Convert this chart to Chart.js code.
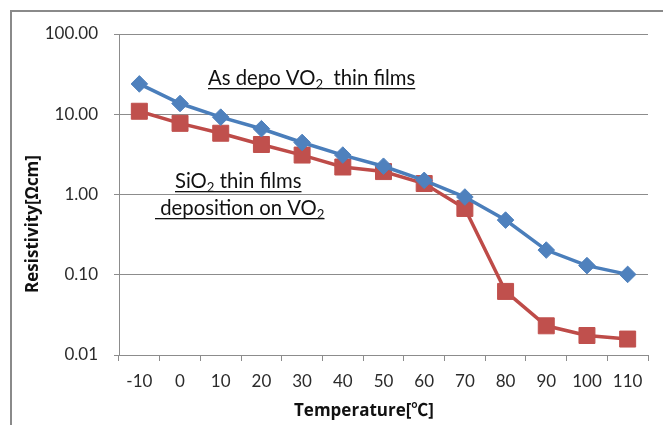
<!DOCTYPE html>
<html>
<head>
<meta charset="utf-8">
<script src="https://cdn.jsdelivr.net/npm/chart.js@4"></script>
<style>
  html, body { margin: 0; padding: 0; background: #fff; }
  #wrap { width: 663px; height: 425px; }
</style>
</head>
<body>
<div id="wrap"><canvas id="resistivityChart" width="663" height="425"></canvas></div>
<script>
  // Values
  const temperatures = ['-10', '0', '10', '20', '30', '40', '50', '60', '70', '80', '90', '100', '110'];
  const asDepoVO2 = [23.9, 13.6, 9.2, 6.6, 4.45, 3.1, 2.25, 1.5, 0.93, 0.48, 0.203, 0.130, 0.101];
  const sio2OnVO2 = [10.9, 7.7, 5.8, 4.2, 3.1, 2.2, 1.93, 1.37, 0.67, 0.062, 0.0231, 0.0175, 0.0158];
  const yTicks = [0.01, 0.1, 1, 10, 100];

  const FONT = 'Lato, "Open Sans", sans-serif';
  const TITLE_FONT = '"Open Sans", "Noto Sans CJK JP", sans-serif';
  const GRID = '#8c8c8c';

  // draws a text run list like [['SiO', false], ['2', true], ...] with optional underline
  function drawRuns(ctx, runs, x, y, size, underline) {
    let cx = x;
    ctx.textBaseline = 'alphabetic';
    ctx.textAlign = 'left';
    runs.forEach(([txt, sub]) => {
      ctx.font = (sub ? size * 0.65 : size) + 'px ' + FONT;
      ctx.fillText(txt, cx, sub ? y + size * 0.2 : y);
      cx += ctx.measureText(txt).width;
    });
    if (underline) {
      ctx.fillRect(x, y + 3, cx - x, 1.3);
    }
  }

  const extras = {
    id: 'extras',
    afterDraw(chart) {
      const ctx = chart.ctx;
      ctx.save();
      // outer frame (only top and left are visible)
      ctx.strokeStyle = '#8a8a8a';
      ctx.lineWidth = 2;
      ctx.beginPath();
      ctx.moveTo(11, 425);
      ctx.lineTo(11, 11);
      ctx.lineTo(663, 11);
      ctx.stroke();

      ctx.fillStyle = '#111';
      drawRuns(ctx, [['As depo VO', false], ['2', true], ['  thin films', false]], 208, 85, 20.3, true);
      drawRuns(ctx, [['SiO', false], ['2', true], [' thin films', false]], 175, 188, 20.3, true);
      drawRuns(ctx, [[' deposition on VO', false], ['2', true]], 155, 215, 20.3, true);

      // axis titles
      ctx.font = 'bold 17px ' + TITLE_FONT;
      ctx.textAlign = 'center';
      ctx.textBaseline = 'middle';
      ctx.fillText('Temperature[℃]', 364, 411);
      ctx.translate(33, 224);
      ctx.rotate(-Math.PI / 2);
      ctx.fillText('Resistivity[Ωcm]', 0, 0);
      ctx.restore();
    }
  };

  const ctx = document.getElementById('resistivityChart').getContext('2d');
  new Chart(ctx, {
    type: 'line',
    data: {
      labels: temperatures,
      datasets: [{
        label: 'As depo VO2 thin films',
        data: asDepoVO2,
        borderColor: '#4A7EBB',
        backgroundColor: '#4F81BD',
        pointBorderColor: '#4F81BD',
        borderWidth: 3.5,
        pointStyle: 'rectRot',
        pointRadius: 8.3,
        pointBorderWidth: 1,
        tension: 0
      }, {
        label: 'SiO2 thin films deposition on VO2',
        data: sio2OnVO2,
        borderColor: '#BE4B48',
        backgroundColor: '#C0504D',
        pointBorderColor: '#C0504D',
        borderWidth: 3.5,
        pointStyle: 'rect',
        pointRadius: 11.3,
        pointBorderWidth: 1,
        tension: 0
      }]
    },
    options: {
      responsive: false,
      animation: false,
      layout: { padding: { left: 0, top: 34, right: 15, bottom: 0 } },
      plugins: {
        legend: { display: false },
        tooltip: { enabled: false }
      },
      scales: {
        x: {
          offset: true,
          afterFit: s => { s.height = 70; },
          grid: { drawOnChartArea: false, drawTicks: true, tickLength: 6, color: GRID, offset: true },
          border: { display: false },
          ticks: { color: '#2b2b2b', font: { family: FONT, size: 17 }, padding: 10, maxRotation: 0, autoSkip: false }
        },
        y: {
          type: 'logarithmic',
          min: 0.01,
          max: 100,
          afterFit: s => { s.width = 119; },
          afterBuildTicks: s => { s.ticks = yTicks.map(v => ({ value: v })); },
          grid: { color: GRID, tickLength: 5 },
          border: { display: true, color: GRID },
          ticks: {
            color: '#2b2b2b',
            font: { family: FONT, size: 17 },
            padding: 16,
            callback: v => Number(v).toFixed(2)
          }
        }
      }
    },
    plugins: [extras]
  });
</script>
</body>
</html>
